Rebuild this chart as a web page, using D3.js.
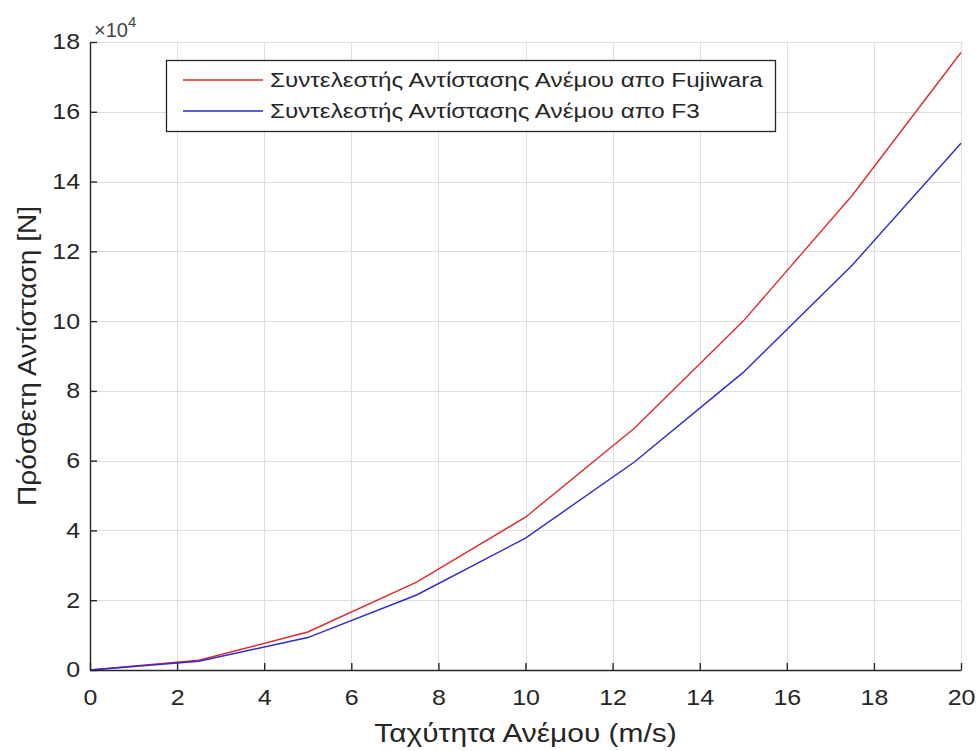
<!DOCTYPE html>
<html>
<head>
<meta charset="utf-8">
<script src="https://cdn.jsdelivr.net/npm/d3@7"></script>
<style>
  html, body { margin: 0; padding: 0; background: #fff; }
  svg text { font-family: "Liberation Sans", Arial, Helvetica, sans-serif; fill: #262626; }
</style>
</head>
<body>
<svg id="chart" width="978" height="751"></svg>
<script>
// Wind speed (m/s) and added resistance (units of 1e4 N)
const windSpeed = [0, 2.5, 5, 7.5, 10, 12.5, 15, 17.5, 20];
const fujiwara  = [0, 0.28, 1.09, 2.52, 4.38, 6.93, 10.0, 13.6, 17.7];
const f3        = [0, 0.25, 0.93, 2.15, 3.78, 5.96, 8.53, 11.6, 15.1];
const xTicks = [0, 2, 4, 6, 8, 10, 12, 14, 16, 18, 20];
const yTicks = [0, 2, 4, 6, 8, 10, 12, 14, 16, 18];
const seriesNames = [
  "Συντελεστής Αντίστασης Ανέμου απο Fujiwara",
  "Συντελεστής Αντίστασης Ανέμου απο F3"
];
const seriesColors = ["#df2b2b", "#2b2bcf"];

const svg = d3.select("#chart");
const plotL = 90, plotR = 961, plotT = 42, plotB = 670;

// widen glyph runs a little (the figure's font sets wider than Arial)
function widen(sel, k) {
  sel.each(function () {
    const w = this.getComputedTextLength();
    d3.select(this).attr("textLength", w * k).attr("lengthAdjust", "spacingAndGlyphs");
  });
}

const x = d3.scaleLinear().domain([0, 20]).range([plotL, plotR]);
const y = d3.scaleLinear().domain([0, 18]).range([plotB, plotT]);

// grid
const grid = svg.append("g").attr("stroke", "#dedede").attr("stroke-width", 1);
grid.selectAll(".gx").data(xTicks).join("line")
  .attr("x1", d => Math.round(x(d)) + 0.5).attr("x2", d => Math.round(x(d)) + 0.5)
  .attr("y1", plotT).attr("y2", plotB);
grid.selectAll(".gy").data(yTicks).join("line")
  .attr("y1", d => Math.round(y(d)) + 0.5).attr("y2", d => Math.round(y(d)) + 0.5)
  .attr("x1", plotL).attr("x2", plotR);

// series lines
const line = d3.line().x((d, i) => x(windSpeed[i])).y(d => y(d));
[fujiwara, f3].forEach((s, i) => {
  svg.append("path").datum(s)
    .attr("fill", "none")
    .attr("stroke", seriesColors[i])
    .attr("stroke-width", 1.4)
    .attr("d", line);
});

// axes with inward ticks
const xAxis = d3.axisBottom(x).tickValues(xTicks).tickSizeInner(-7).tickSizeOuter(0).tickPadding(20);
const yAxis = d3.axisLeft(y).tickValues(yTicks).tickSizeInner(-7).tickSizeOuter(0).tickPadding(10);

const gx = svg.append("g").attr("transform", `translate(0,${plotB})`).call(xAxis);
const gy = svg.append("g").attr("transform", `translate(${plotL},0)`).call(yAxis);
[gx, gy].forEach(g => {
  g.attr("font-family", null).attr("font-size", null);
  g.select(".domain").attr("stroke", "#262626").attr("stroke-width", 1.4);
  g.selectAll(".tick line").attr("stroke", "#262626").attr("stroke-width", 1.4);
  g.selectAll(".tick text").attr("font-size", 21.5).style("fill", "#262626");
  widen(g.selectAll(".tick text"), 1.16);
});

// exponent label
const ex = svg.append("text").attr("x", 94).attr("y", 37).attr("font-size", 20).style("fill", "#444");
ex.append("tspan").text("×10");
ex.append("tspan").attr("dy", -10).attr("font-size", 15).text("4");

// axis titles
const xTitle = svg.append("text")
  .attr("x", (plotL + plotR) / 2).attr("y", 742)
  .attr("text-anchor", "middle").attr("font-size", 26)
  .text("Ταχύτητα Ανέμου (m/s)");
widen(xTitle, 1.15);
const yTitle = svg.append("text")
  .attr("transform", `translate(36,${(plotT + plotB) / 2}) rotate(-90)`)
  .attr("text-anchor", "middle").attr("font-size", 25)
  .text("Πρόσθετη Αντίσταση [N]");
widen(yTitle, 1.12);

// legend
const lg = svg.append("g");
lg.append("rect").attr("x", 166.5).attr("y", 60.5).attr("width", 609).attr("height", 71)
  .attr("fill", "#fff").attr("stroke", "#262626").attr("stroke-width", 1.3);
seriesNames.forEach((name, i) => {
  const yy = 80 + i * 31;
  lg.append("line").attr("x1", 183).attr("x2", 263).attr("y1", yy).attr("y2", yy)
    .attr("stroke", seriesColors[i]).attr("stroke-width", 1.4);
  const t = lg.append("text").attr("x", 270).attr("y", yy + 7).attr("font-size", 20).text(name);
  widen(t, 1.21);
});
</script>
</body>
</html>
